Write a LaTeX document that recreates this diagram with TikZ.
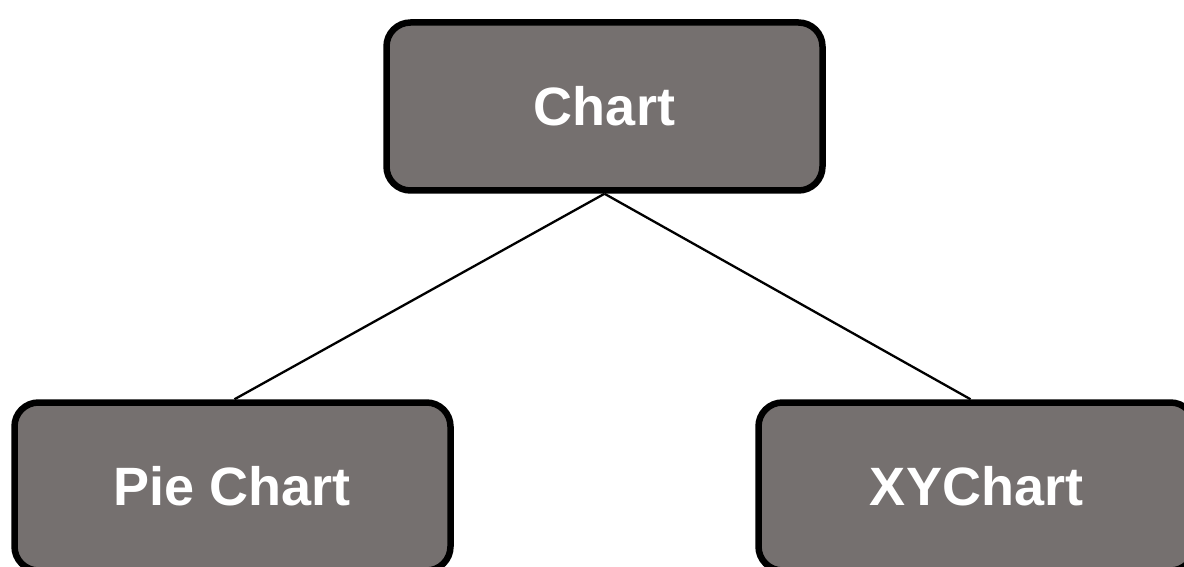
\documentclass[tikz,border=0pt]{standalone}
\usepackage{fontspec}
\setmainfont{Liberation Sans}
\definecolor{boxgray}{RGB}{117,112,111}
\begin{document}
\begin{tikzpicture}[x=1pt, y=1pt,
    classbox/.style={draw=black, line width=6.5pt, fill=boxgray, rounded corners=24pt,
        minimum width=436pt, minimum height=168pt, text=white,
        font=\fontsize{54}{60}\selectfont\bfseries}]
    \useasboundingbox (0,0) rectangle (1184,566);

    \node[classbox] (chart) at (604.5,459.5) {Chart};
    \node[classbox] (pie) at (232.5,79.5) {Pie Chart};
    \node[classbox] (xy) at (976.5,79.5) {XYChart};

    \draw[line width=2.3pt] (chart.south) -- ([xshift=2pt]pie.north);
    \draw[line width=2.3pt] (chart.south) -- ([xshift=-6pt]xy.north);
\end{tikzpicture}
\end{document}
